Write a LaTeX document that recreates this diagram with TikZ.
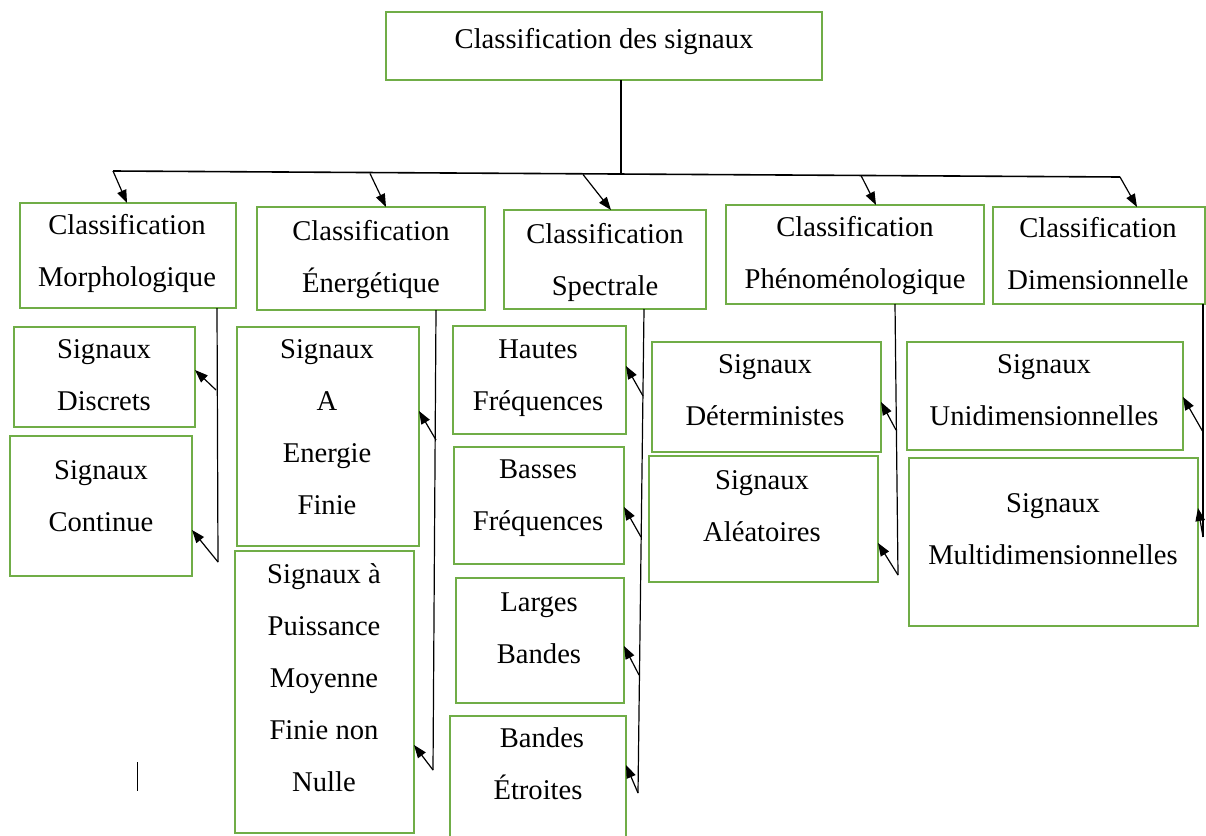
\documentclass[tikz,border=0pt]{standalone}
\usepackage{fontspec}
\setmainfont{Liberation Serif}
\usetikzlibrary{arrows.meta}
\definecolor{boxgreen}{RGB}{112,173,71}
\begin{document}
\begin{tikzpicture}[x=1pt,y=-1pt,
  gbox/.style={draw=boxgreen,line width=1.5pt,inner sep=0pt,outer sep=0pt,anchor=north west},
  txt/.style={align=center,inner sep=0pt,font=\fontsize{28.6}{52}\selectfont,
    execute at begin node=\strut,execute at end node=\strut},
  mtxt/.style={txt,yshift=-7pt},
  link/.style={draw=black,line width=1.2pt},
  arr/.style={link,-{Triangle[length=13pt,width=9.5pt]}}]
\useasboundingbox (0,0) rectangle (1206,835);
\clip (0,0) rectangle (1206,835);

% ---- boxes ----
\node[gbox,minimum width=436pt,minimum height=68pt] (top) at (386,12) {};
\node[gbox,minimum width=216pt,minimum height=105pt] (morph) at (20,203) {};
\node[gbox,minimum width=228pt,minimum height=103pt] (energ) at (257,207) {};
\node[gbox,minimum width=202pt,minimum height=99pt] (spec) at (504,210) {};
\node[gbox,minimum width=258pt,minimum height=99pt] (phen) at (726,205) {};
\node[gbox,minimum width=212pt,minimum height=97pt] (dim) at (993,207) {};

\node[gbox,minimum width=181pt,minimum height=100pt] (disc) at (14,327) {};
\node[gbox,minimum width=182pt,minimum height=140pt] (cont) at (10,436) {};
\node[gbox,minimum width=182pt,minimum height=219pt] (efin) at (237,327) {};
\node[gbox,minimum width=179pt,minimum height=282pt] (puis) at (235,551) {};
\node[gbox,minimum width=173pt,minimum height=108pt] (haut) at (453,326) {};
\node[gbox,minimum width=170pt,minimum height=117pt] (bass) at (454,447) {};
\node[gbox,minimum width=168pt,minimum height=125pt] (larg) at (456,578) {};
\node[gbox,minimum width=176pt,minimum height=130pt] (etro) at (450,716) {};
\node[gbox,minimum width=229pt,minimum height=110pt] (det) at (652,342) {};
\node[gbox,minimum width=229pt,minimum height=126pt] (alea) at (649,456) {};
\node[gbox,minimum width=276pt,minimum height=108pt] (uni) at (907,342) {};
\node[gbox,minimum width=289pt,minimum height=168pt] (mult) at (909,458) {};

% ---- texts ----
\node[txt] (ttop) at (604,38) {Classification des signaux};
\node[mtxt] (tmorph) at (127,251.5) {Classification\\Morphologique};
\node[mtxt] (tenerg) at (371,257) {Classification\\Énergétique};
\node[mtxt] (tspec) at (605,260) {Classification\\Spectrale};
\node[mtxt] (tphen) at (855,253.5) {Classification\\Phénoménologique};
\node[mtxt] (tdim) at (1098,254.5) {Classification\\Dimensionnelle};

\node[mtxt] (tdisc) at (104,376) {Signaux\\Discrets};
\node[mtxt] (tcont) at (101,496.5) {Signaux\\Continue};
\node[mtxt] (tefin) at (327,427.5) {Signaux\\A\\Energie\\Finie};
\node[mtxt] (tpuis) at (324,678) {Signaux à\\Puissance\\Moyenne\\Finie non\\Nulle};
\node[mtxt] (thaut) at (538,376) {Hautes\\Fréquences};
\node[mtxt] (tbass) at (538,496) {Basses\\Fréquences};
\node[mtxt] (tlarg) at (539,628.5) {Larges\\Bandes};
\node[mtxt] (tetro) at (538,764.5) {\hspace*{8pt}Bandes\\Étroites};
\node[mtxt] (tdet) at (765,391) {Signaux\\Déterministes};
\node[mtxt] (talea) at (762,507) {Signaux\\Aléatoires};
\node[mtxt] (tuni) at (1044,391) {Signaux\\Unidimensionnelles};
\node[mtxt] (tmult) at (1053,530) {Signaux\\Multidimensionnelles};

% ---- trunk and bus ----
\coordinate (trunkB) at (621,174);
\coordinate (busL) at (113,171);
\coordinate (busR) at (1120,177);
\coordinate (bE) at (370,173.5);
\coordinate (bS) at (583,174.5);
\coordinate (bP) at (861,175.5);
\draw[link] (top.south -| trunkB) -- (trunkB);
\draw[link,line width=1.6pt] (busL) -- (busR);
\draw[arr] (busL) -- (127,0 |- morph.north);
\draw[arr] (bE) -- (386,0 |- energ.north);
\draw[arr] (bS) -- (611,0 |- spec.north);
\draw[arr] (bP) -- (876,0 |- phen.north);
\draw[arr] (busR) -- (1137,0 |- dim.north);

% ---- column lines ----
\coordinate (m1) at (216,390);
\coordinate (m2) at (218,562);
\draw[link] (morph.south -| 217,0) -- (m2);
\draw[arr] (m1) -- (disc.east |- 0,370);
\draw[arr] (m2) -- (cont.east |- 0,530);

\coordinate (e1) at (436,440);
\coordinate (e2) at (433,770);
\draw[link] (energ.south -| 436,0) -- (e2);
\draw[arr] (e1) -- (efin.east |- 0,411);
\draw[arr] (e2) -- (puis.east |- 0,745);

\coordinate (s1) at (643,396);
\coordinate (s2) at (641,537);
\coordinate (s3) at (639,675);
\coordinate (s4) at (638,793);
\draw[link] (spec.south -| 644,0) -- (s4);
\draw[arr] (s1) -- (haut.east |- 0,366);
\draw[arr] (s2) -- (bass.east |- 0,507);
\draw[arr] (s3) -- (larg.east |- 0,646);
\draw[arr] (s4) -- (etro.east |- 0,765);

\coordinate (p1) at (896,430);
\coordinate (p2) at (898,575);
\draw[link] (phen.south -| 895,0) -- (p2);
\draw[arr] (p1) -- (det.east |- 0,402);
\draw[arr] (p2) -- (alea.east |- 0,543);

\coordinate (d1) at (1203,432);
\coordinate (d2) at (1203,537);
\draw[link] (dim.south -| 1203,0) -- (d2);
\draw[arr] (d1) -- (uni.east |- 0,397);
\draw[arr] (d2) -- (mult.east |- 0,508);

% ---- stray cursor mark ----
\coordinate (cur1) at (137,762);
\coordinate (cur2) at (137,791);
\draw[line width=1pt] (cur1) -- (cur2);
\end{tikzpicture}
\end{document}
